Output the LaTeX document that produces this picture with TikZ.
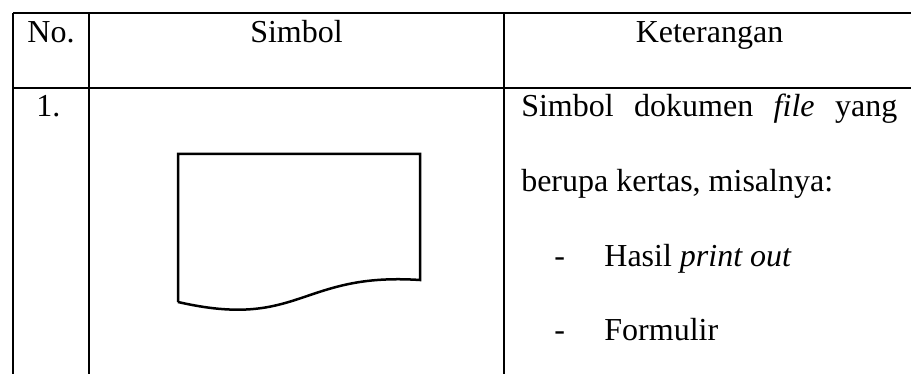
\documentclass[tikz,border=0pt]{standalone}
\usepackage{fontspec}
\setmainfont{Liberation Serif}
\usetikzlibrary{positioning}

\begin{document}
\begin{tikzpicture}[x=0.5pt,y=-0.5pt,line width=1.25pt,
  head node/.style={anchor=base,inner sep=0pt,font=\fontsize{16}{19}\selectfont},
  text node/.style={anchor=base west,inner sep=0pt,font=\fontsize{16}{19}\selectfont}]

  \useasboundingbox (0,0) rectangle (911,374);

  % table rules
  \draw (13,13) -- (911,13);
  \draw (13,88) -- (911,88);
  \draw (13,13) -- (13,374);
  \draw (89,13) -- (89,374);
  \draw (504,13) -- (504,374);

  % header
  \node[head node] (no) at (51,43) {No.};
  \node[head node] (simbol) at (296.5,43) {Simbol};
  \node[head node] (ket) at (709.5,43) {Keterangan};

  % row 1
  \node[text node] (nr) at (35,117) {1.};

  % document symbol
  \draw (178,302) -- (178,154) -- (420,154) -- (420,280)
    .. controls (300,272) and (300,330) .. (178,302);

  \node[text node] (l1) at (520,117)
    {\hbox to 188pt{Simbol\hfill dokumen\hfill \textit{file}\hfill yang}};
  \node[text node] (l2) at (520,191.5) {berupa kertas, misalnya:};
  \node[text node] (d1) at (553,266) {-};
  \node[text node] (h1) [base right=18.5pt of d1] {Hasil \textit{print out}};
  \node[text node] (d2) at (553,340.5) {-};
  \node[text node] (h2) [base right=18.5pt of d2] {Formulir};
\end{tikzpicture}
\end{document}
